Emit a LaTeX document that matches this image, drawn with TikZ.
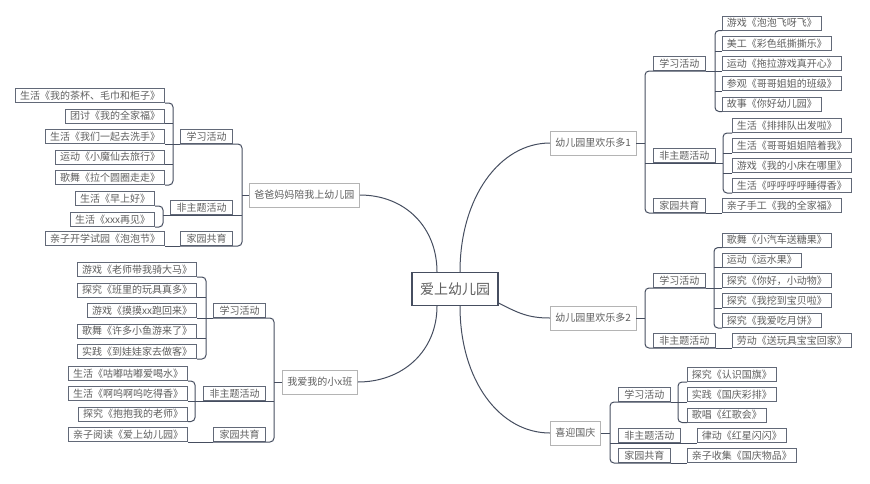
\documentclass[tikz,border=0pt]{standalone}
\usepackage{fontspec}
\setmainfont{Noto Sans CJK SC}
\usepackage{tikz}
\usepackage{xcolor}
\usetikzlibrary{shadows}

\definecolor{linkc}{RGB}{70,78,96}
\definecolor{textc}{RGB}{95,95,95}
\definecolor{topicc}{RGB}{180,180,180}

\begin{document}
\begin{tikzpicture}[
      x=1pt, y=-1pt,
      link/.style={draw=linkc, line width=1pt, rounded corners=4pt},
      curve/.style={draw=linkc, line width=1pt},
      leafbox/.style={draw=linkc!85, line width=.8pt, fill=white, text=textc,
        font=\fontsize{10}{12}\selectfont, inner xsep=4.5pt, inner ysep=0pt,
        minimum height=14pt,
        drop shadow={opacity=1, shadow xshift=.7pt, shadow yshift=-.7pt, fill=linkc}},
      leftleaf/.style={leafbox, anchor=south east},
      rightleaf/.style={leafbox, anchor=south west},
      leftcat/.style={leafbox, inner xsep=6pt, anchor=south east},
      rightcat/.style={leafbox, inner xsep=6pt, anchor=south west},
      topicbox/.style={draw=topicc, line width=.8pt, fill=white, text=textc,
        font=\fontsize{10}{12}\selectfont, inner xsep=5pt, minimum height=24pt,
        anchor=west},
      rootbox/.style={draw=linkc, line width=1.2pt, fill=white, text=textc,
        font=\fontsize{14}{16}\selectfont, inner xsep=8pt, minimum height=33pt}
    ]
      \useasboundingbox (0,0) rectangle (870,483);

      \node[rootbox] (root) at (455,289) {爱上幼儿园};

      \node[topicbox] (b1) at (249,195) {爸爸妈妈陪我上幼儿园};
      \node[topicbox] (b2) at (282,382) {我爱我的小x班};
      \node[topicbox] (b3) at (550,143) {幼儿园里欢乐多1};
      \node[topicbox] (b4) at (550,318) {幼儿园里欢乐多2};
      \node[topicbox] (b5) at (550,433) {喜迎国庆};

      \draw[curve] ([xshift=-18pt]root.north) .. controls +(0,-45) and +(45,0) .. (b1.east);
      \draw[curve] ([xshift=5pt]root.north) .. controls +(0,-75) and +(-50,0) .. (b3.west);
      \draw[curve] ([xshift=-18pt]root.south) .. controls +(0,45) and +(45,0) .. (b2.east);
      \draw[curve] ([xshift=5pt]root.south) .. controls +(0,75) and +(-50,0) .. (b5.west);
      \draw[curve] ([yshift=3pt]root.south east) .. controls +(20,10) and +(-22,0) .. (b4.west);

      % 爸爸妈妈陪我上幼儿园
      \node[leftcat] (b1a) at (233,144) {学习活动};
      \node[leftcat] (b1b) at (233,215) {非主题活动};
      \node[leftcat] (b1c) at (233,246) {家园共育};
      \node[leftleaf] (b1a1) at (165,103) {生活《我的茶杯、毛巾和柜子》};
      \node[leftleaf] (b1a2) at (165,123.5) {团讨《我的全家福》};
      \node[leftleaf] (b1a3) at (165,144) {生活《我们一起去洗手》};
      \node[leftleaf] (b1a4) at (165,164.5) {运动《小魔仙去旅行》};
      \node[leftleaf] (b1a5) at (165,185) {歌舞《拉个圆圈走走》};
      \node[leftleaf] (b1b1) at (155,206) {生活《早上好》};
      \node[leftleaf] (b1b2) at (155,227) {生活《xxx再见》};
      \node[leftleaf] (b1c1) at (165,246) {亲子开学试园《泡泡节》};

      \coordinate (v1) at (242,195);
      \coordinate (v1a) at (173,144);
      \coordinate (v1b) at (163,215);
      \draw[link] (b1.west) -- (v1);
      \draw[link] (b1a.south west) -- (v1 |- b1a.south) |- (b1c.south west);
      \draw[link] (v1 |- b1b.south) -- (b1b.south west);
      \draw[link] (b1a.south west) -- (v1a |- b1a.south);
      \draw[link] (b1a1.south east) -| (v1a |- b1a5.south) -- (b1a5.south east);
      \draw[link] (v1a |- b1a2.south) -- (b1a2.south east);
      \draw[link] (v1a |- b1a3.south) -- (b1a3.south east);
      \draw[link] (v1a |- b1a4.south) -- (b1a4.south east);
      \draw[link] (b1b.south west) -- (v1b |- b1b.south);
      \draw[link] (b1b1.south east) -| (v1b |- b1b2.south) -- (b1b2.south east);
      \draw[link] (b1c.south west) -- (b1c1.south east);

      % 我爱我的小x班
      \node[leftcat] (b2a) at (266,318) {学习活动};
      \node[leftcat] (b2b) at (266,401) {非主题活动};
      \node[leftcat] (b2c) at (266,442) {家园共育};
      \node[leftleaf] (b2a1) at (197,277) {游戏《老师带我骑大马》};
      \node[leftleaf] (b2a2) at (197,297.5) {探究《班里的玩具真多》};
      \node[leftleaf] (b2a3) at (197,318) {游戏《摸摸xx跑回来》};
      \node[leftleaf] (b2a4) at (197,338.5) {歌舞《许多小鱼游来了》};
      \node[leftleaf] (b2a5) at (197,359) {实践《到娃娃家去做客》};
      \node[leftleaf] (b2b1) at (188,381) {生活《咕嘟咕嘟爱喝水》};
      \node[leftleaf] (b2b2) at (188,401) {生活《啊呜啊呜吃得香》};
      \node[leftleaf] (b2b3) at (188,421.5) {探究《抱抱我的老师》};
      \node[leftleaf] (b2c1) at (188,442) {亲子阅读《爱上幼儿园》};

      \coordinate (v2) at (274,382);
      \coordinate (v2a) at (206,318);
      \coordinate (v2b) at (195,401);
      \draw[link] (b2.west) -- (v2);
      \draw[link] (b2a.south west) -- (v2 |- b2a.south) |- (b2c.south west);
      \draw[link] (v2 |- b2b.south) -- (b2b.south west);
      \draw[link] (b2a.south west) -- (v2a |- b2a.south);
      \draw[link] (b2a1.south east) -| (v2a |- b2a5.south) -- (b2a5.south east);
      \draw[link] (v2a |- b2a2.south) -- (b2a2.south east);
      \draw[link] (v2a |- b2a3.south) -- (b2a3.south east);
      \draw[link] (v2a |- b2a4.south) -- (b2a4.south east);
      \draw[link] (b2b.south west) -- (v2b |- b2b.south);
      \draw[link] (b2b1.south east) -| (v2b |- b2b3.south) -- (b2b3.south east);
      \draw[link] (v2b |- b2b2.south) -- (b2b2.south east);
      \draw[link] (b2c.south west) -- (b2c1.south east);

      % 幼儿园里欢乐多1
      \node[rightcat] (b3a) at (653,71) {学习活动};
      \node[rightcat] (b3b) at (653,163) {非主题活动};
      \node[rightcat] (b3c) at (653,213) {家园共育};
      \node[rightleaf] (b3a1) at (722,30.5) {游戏《泡泡飞呀飞》};
      \node[rightleaf] (b3a2) at (722,51) {美工《彩色纸撕撕乐》};
      \node[rightleaf] (b3a3) at (722,71) {运动《拖拉游戏真开心》};
      \node[rightleaf] (b3a4) at (722,91) {参观《哥哥姐姐的班级》};
      \node[rightleaf] (b3a5) at (722,111.5) {故事《你好幼儿园》};
      \node[rightleaf] (b3b1) at (732,133) {生活《排排队出发啦》};
      \node[rightleaf] (b3b2) at (732,153) {生活《哥哥姐姐陪着我》};
      \node[rightleaf] (b3b3) at (732,173) {游戏《我的小床在哪里》};
      \node[rightleaf] (b3b4) at (732,193) {生活《呼呼呼呼睡得香》};
      \node[rightleaf] (b3c1) at (722,213) {亲子手工《我的全家福》};

      \coordinate (v3) at (645,143);
      \coordinate (v3a) at (715,71);
      \coordinate (v3b) at (723,163);
      \draw[link] (b3.east) -- (v3);
      \draw[link] (b3a.south east) -- (v3 |- b3a.south) |- (b3c.south east);
      \draw[link] (v3 |- b3b.south) -- (b3b.south east);
      \draw[link] (b3a.south east) -- (v3a |- b3a.south);
      \draw[link] (b3a1.south west) -| (v3a |- b3a5.south) -- (b3a5.south west);
      \draw[link] (v3a |- b3a2.south) -- (b3a2.south west);
      \draw[link] (v3a |- b3a3.south) -- (b3a3.south west);
      \draw[link] (v3a |- b3a4.south) -- (b3a4.south west);
      \draw[link] (b3b.south east) -- (v3b |- b3b.south);
      \draw[link] (b3b1.south west) -| (v3b |- b3b4.south) -- (b3b4.south west);
      \draw[link] (v3b |- b3b2.south) -- (b3b2.south west);
      \draw[link] (v3b |- b3b3.south) -- (b3b3.south west);
      \draw[link] (b3c.south east) -- (b3c1.south west);

      % 幼儿园里欢乐多2
      \node[rightcat] (b4a) at (653,288) {学习活动};
      \node[rightcat] (b4b) at (653,348) {非主题活动};
      \node[rightleaf] (b4a1) at (722,247.5) {歌舞《小汽车送糖果》};
      \node[rightleaf] (b4a2) at (722,267.5) {运动《运水果》};
      \node[rightleaf] (b4a3) at (722,288) {探究《你好，小动物》};
      \node[rightleaf] (b4a4) at (722,308) {探究《我挖到宝贝啦》};
      \node[rightleaf] (b4a5) at (722,328) {探究《我爱吃月饼》};
      \node[rightleaf] (b4b1) at (732,348) {劳动《送玩具宝宝回家》};

      \coordinate (v4) at (645,318);
      \coordinate (v4a) at (714,288);
      \draw[link] (b4.east) -- (v4);
      \draw[link] (b4a.south east) -- (v4 |- b4a.south) |- (b4b.south east);
      \draw[link] (b4a.south east) -- (v4a |- b4a.south);
      \draw[link] (b4a1.south west) -| (v4a |- b4a5.south) -- (b4a5.south west);
      \draw[link] (v4a |- b4a2.south) -- (b4a2.south west);
      \draw[link] (v4a |- b4a3.south) -- (b4a3.south west);
      \draw[link] (v4a |- b4a4.south) -- (b4a4.south west);
      \draw[link] (b4b.south east) -- (b4b1.south west);

      % 喜迎国庆
      \node[rightcat] (b5a) at (618,402) {学习活动};
      \node[rightcat] (b5b) at (618,443) {非主题活动};
      \node[rightcat] (b5c) at (618,463) {家园共育};
      \node[rightleaf] (b5a1) at (687,382) {探究《认识国旗》};
      \node[rightleaf] (b5a2) at (687,402) {实践《国庆彩排》};
      \node[rightleaf] (b5a3) at (687,422.5) {歌唱《红歌会》};
      \node[rightleaf] (b5b1) at (697,443) {律动《红星闪闪》};
      \node[rightleaf] (b5c1) at (687,463) {亲子收集《国庆物品》};

      \coordinate (v5) at (610,433);
      \coordinate (v5a) at (678,402);
      \draw[link] (b5.east) -- (v5);
      \draw[link] (b5a.south east) -- (v5 |- b5a.south) |- (b5c.south east);
      \draw[link] (v5 |- b5b.south) -- (b5b.south east);
      \draw[link] (b5a.south east) -- (v5a |- b5a.south);
      \draw[link] (b5a1.south west) -| (v5a |- b5a3.south) -- (b5a3.south west);
      \draw[link] (v5a |- b5a2.south) -- (b5a2.south west);
      \draw[link] (b5b.south east) -- (b5b1.south west);
      \draw[link] (b5c.south east) -- (b5c1.south west);
    \end{tikzpicture}
\end{document}
